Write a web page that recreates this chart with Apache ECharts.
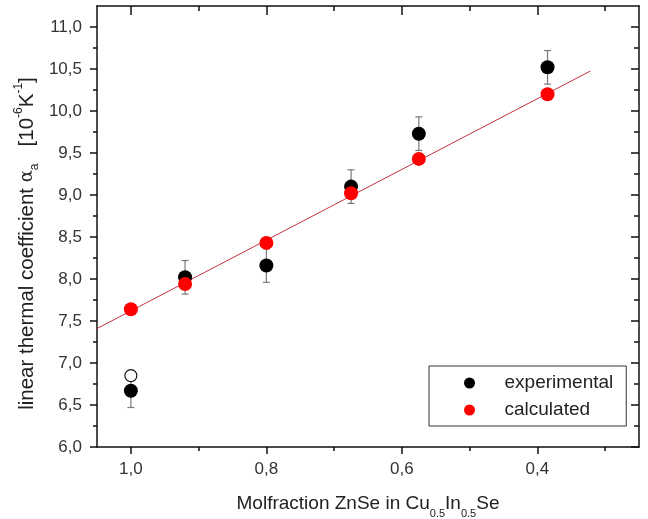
<!DOCTYPE html>
<html>
<head>
<meta charset="utf-8">
<script src="https://cdn.jsdelivr.net/npm/echarts@6/dist/echarts.min.js"></script>
<style>
  html, body { margin: 0; padding: 0; background: #fff; }
  #chart { width: 648px; height: 519px; }
</style>
</head>
<body>
<div id="chart"></div>
<script>
// Molfraction of ZnSe and the linear thermal expansion coefficient (10^-6 K^-1)
const molfraction = [1.0, 0.92, 0.8, 0.675, 0.575, 0.385];
const alphaExperimental = [6.67, 8.02, 8.16, 9.10, 9.73, 10.52];
const alphaError = [0.2, 0.2, 0.2, 0.2, 0.2, 0.2];
const alphaCalculated = [7.64, 7.94, 8.43, 9.02, 9.43, 10.20];

// single open-circle value at x = 1.0
const openX = [1.0];
const openY = [6.85];

// straight line through the calculated values
const fitX = [1.05, 0.322];
const fitY = [7.41, 10.475];

// axis ticks
const xTicks = [1.0, 0.8, 0.6, 0.4];
const xMinorTicks = [0.9, 0.7, 0.5, 0.3];
const yTicks = [6.0, 6.5, 7.0, 7.5, 8.0, 8.5, 9.0, 9.5, 10.0, 10.5, 11.0];
const yMinorTicks = [6.25, 6.75, 7.25, 7.75, 8.25, 8.75, 9.25, 9.75, 10.25, 10.75];

const FONT = '"Liberation Sans", Arial, Helvetica, sans-serif';
const X_MIN = 0.25, X_MAX = 1.05, Y_MIN = 6.0, Y_MAX = 11.25;
const fmt = v => v.toFixed(1).replace('.', ',');

function xAxisDef(position, ticks, tickLen, inside, withLine, withLabels) {
  return {
    type: 'value', position: position, min: X_MIN, max: X_MAX, inverse: true,
    axisLine: { show: withLine, onZero: false, lineStyle: { color: '#111', width: 1.5 } },
    axisTick: { show: true, customValues: ticks, inside: inside, length: tickLen,
                lineStyle: { color: '#111', width: 1.5 } },
    axisLabel: withLabels
      ? { show: true, customValues: ticks, formatter: fmt, margin: 14, fontSize: 17,
          fontFamily: FONT, color: '#333' }
      : { show: false },
    splitLine: { show: false }
  };
}
function yAxisDef(position, ticks, tickLen, inside, withLine, withLabels) {
  return {
    type: 'value', position: position, min: Y_MIN, max: Y_MAX,
    axisLine: { show: withLine, onZero: false, lineStyle: { color: '#111', width: 1.5 } },
    axisTick: { show: true, customValues: ticks, inside: inside, length: tickLen,
                lineStyle: { color: '#111', width: 1.5 } },
    axisLabel: withLabels
      ? { show: true, customValues: ticks, formatter: fmt, margin: 15, fontSize: 17,
          fontFamily: FONT, color: '#333' }
      : { show: false },
    splitLine: { show: false }
  };
}

const xBottom = xAxisDef('bottom', xTicks, 7, false, true, true);
xBottom.name = 'Molfraction ZnSe in Cu{s|0.5}In{s|0.5}Se';
xBottom.nameLocation = 'middle';
xBottom.nameGap = 42;
xBottom.nameMoveOverlap = false;
xBottom.nameTextStyle = {
  fontSize: 19, fontFamily: FONT, color: '#222', lineHeight: 30,
  rich: { s: { fontSize: 11, fontFamily: FONT, color: '#222', lineHeight: 11, verticalAlign: 'bottom' } }
};

const yLeft = yAxisDef('left', yTicks, 7, false, true, true);
yLeft.name = 'linear thermal coefficient {g|α}{sb|a}   [10{sp|-6}K{sp|-1}]';
yLeft.nameLocation = 'middle';
yLeft.nameRotate = 90;
yLeft.nameGap = 56;
yLeft.nameMoveOverlap = false;
yLeft.nameTextStyle = {
  fontSize: 20.5, fontFamily: FONT, color: '#222', lineHeight: 28, padding: [0, 34, 0, 0],
  rich: {
    g: { fontSize: 18, fontFamily: '"DejaVu Serif", serif', color: '#222', lineHeight: 28 },
    sb: { fontSize: 12, fontFamily: FONT, color: '#222', lineHeight: 12, verticalAlign: 'bottom' },
    sp: { fontSize: 12, fontFamily: FONT, color: '#222', lineHeight: 12, verticalAlign: 'top' }
  }
};

const errorData = molfraction.map((x, i) => [x, alphaExperimental[i] - alphaError[i], alphaExperimental[i] + alphaError[i]]);

const option = {
  animation: false,
  backgroundColor: '#fff',
  grid: { left: 97, right: 9, top: 6, bottom: 72, containLabel: false, outerBoundsMode: 'none' },
  legend: {
    data: ['experimental', 'calculated'],
    orient: 'vertical',
    left: 429, top: 366,
    itemWidth: 60, itemHeight: 11, itemGap: 5,
    padding: [6, 13, 5, 35],
    borderColor: '#333', borderWidth: 1,
    backgroundColor: '#fff',
    icon: 'circle',
    selectedMode: false,
    textStyle: { fontSize: 19, fontFamily: FONT, color: '#222', lineHeight: 22 }
  },
  xAxis: [
    xBottom,
    xAxisDef('bottom', xMinorTicks, 4, false, false, false),
    xAxisDef('top', xTicks, 9, true, true, false),
    xAxisDef('top', xMinorTicks, 5, true, false, false)
  ],
  yAxis: [
    yLeft,
    yAxisDef('left', yMinorTicks, 4, false, false, false),
    yAxisDef('right', yTicks, 8, true, true, false),
    yAxisDef('right', yMinorTicks, 5, true, false, false)
  ],
  series: [
    {
      type: 'line', name: 'fit', xAxisIndex: 0, yAxisIndex: 0,
      data: fitX.map((x, i) => [x, fitY[i]]),
      showSymbol: false, symbol: 'none', silent: true, z: 1,
      lineStyle: { color: '#c4303e', width: 1 }
    },
    {
      type: 'custom', name: 'error', xAxisIndex: 0, yAxisIndex: 0,
      data: errorData, silent: true, z: 2,
      encode: { x: 0, y: [1, 2] },
      renderItem: function (params, api) {
        const x = api.value(0);
        const lo = api.coord([x, api.value(1)]);
        const hi = api.coord([x, api.value(2)]);
        const cap = 3.5;
        const st = { stroke: '#7a7a7a', lineWidth: 1.2 };
        return {
          type: 'group',
          children: [
            { type: 'line', shape: { x1: lo[0], y1: lo[1], x2: hi[0], y2: hi[1] }, style: st },
            { type: 'line', shape: { x1: lo[0] - cap, y1: lo[1], x2: lo[0] + cap, y2: lo[1] }, style: st },
            { type: 'line', shape: { x1: hi[0] - cap, y1: hi[1], x2: hi[0] + cap, y2: hi[1] }, style: st }
          ]
        };
      }
    },
    {
      type: 'scatter', name: 'experimental', xAxisIndex: 0, yAxisIndex: 0,
      data: molfraction.map((x, i) => [x, alphaExperimental[i]]),
      symbol: 'circle', symbolSize: 14, z: 3,
      itemStyle: { color: '#000', opacity: 1 }
    },
    {
      type: 'scatter', name: 'open', xAxisIndex: 0, yAxisIndex: 0,
      data: openX.map((x, i) => [x, openY[i]]),
      symbol: 'circle', symbolSize: 12, z: 3,
      itemStyle: { color: '#fff', borderColor: '#111', borderWidth: 1.2, opacity: 1 }
    },
    {
      type: 'scatter', name: 'calculated', xAxisIndex: 0, yAxisIndex: 0,
      data: molfraction.map((x, i) => [x, alphaCalculated[i]]),
      symbol: 'circle', symbolSize: 14, z: 4,
      itemStyle: { color: '#ff0000', opacity: 1 }
    }
  ]
};

const chart = echarts.init(document.getElementById('chart'), null, { renderer: 'canvas' });
chart.setOption(option);
</script>
</body>
</html>
